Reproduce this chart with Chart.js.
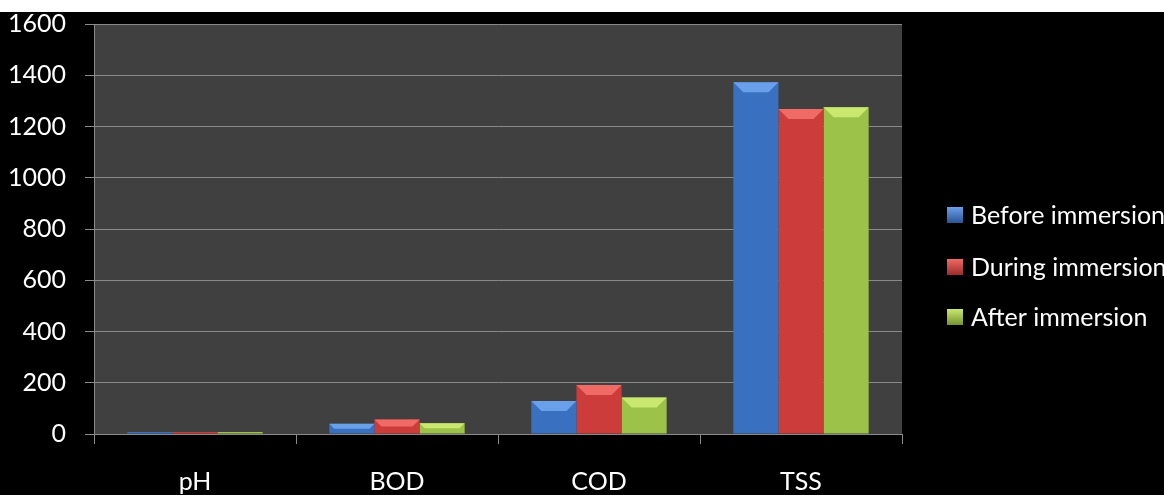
<!DOCTYPE html>
<html><head><meta charset="utf-8">
<script src="https://cdn.jsdelivr.net/npm/chart.js@4.4.0/dist/chart.umd.min.js"></script>
<style>
html,body{margin:0;padding:0;background:#fff;}
canvas{display:block;}
</style></head><body>
<canvas id="c" width="1164" height="495"></canvas>
<script>
const categories = ['pH', 'BOD', 'COD', 'TSS'];
const seriesNames = ['Before immersion', 'During immersion', 'After immersion'];
const beforeVals = [8, 40, 129, 1373];
const duringVals = [8, 57, 191, 1268];
const afterVals = [8, 42, 142, 1275];
const yTicks = [0, 200, 400, 600, 800, 1000, 1200, 1400, 1600];

const colors = ['#3a70c0', '#cc3c3a', '#9cc24a'];
const lightColors = ['#6aa0ea', '#f06a66', '#c8e870'];
const darkColors = ['#2a5494', '#9c2c2a', '#76942e'];
const FONT = 'Lato, "Open Sans", sans-serif';
const FS = 25;

function grad(ctx, i) {
  const el = ctx.element;
  const chart = ctx.chart;
  if (!el || !chart.chartArea) return colors[i];
  const x = el.x, w = el.width;
  if (!isFinite(x) || !isFinite(w) || w <= 0) return colors[i];
  const g = chart.ctx.createLinearGradient(x - w / 2, 0, x + w / 2, 0);
  g.addColorStop(0, darkColors[i]);
  g.addColorStop(0.12, colors[i]);
  g.addColorStop(0.88, colors[i]);
  g.addColorStop(1, darkColors[i]);
  return g;
}

const bgPlugin = {
  id: 'bg',
  beforeDraw(chart) {
    const {ctx, chartArea: a, width, height} = chart;
    ctx.save();
    ctx.fillStyle = '#ffffff';
    ctx.fillRect(0, 0, width, 12);
    ctx.fillStyle = '#000000';
    ctx.fillRect(0, 12, width, height - 12);
    ctx.fillStyle = '#404040';
    ctx.fillRect(a.left, a.top, a.right - a.left, a.bottom - a.top);
    ctx.restore();
  },
  afterDatasetsDraw(chart) {
    const ctx = chart.ctx;
    chart.data.datasets.forEach((ds, i) => {
      const meta = chart.getDatasetMeta(i);
      meta.data.forEach(bar => {
        const w = bar.width, h = bar.base - bar.y;
        if (!isFinite(h) || h < 4) return;
        const bev = Math.min(10, h / 2);
        const l = bar.x - w / 2, r = bar.x + w / 2, t = bar.y;
        ctx.save();
        ctx.fillStyle = lightColors[i];
        ctx.beginPath();
        ctx.moveTo(l, t); ctx.lineTo(r, t); ctx.lineTo(r - bev, t + bev); ctx.lineTo(l + bev, t + bev);
        ctx.closePath(); ctx.fill();
        ctx.restore();
      });
    });
  }
};

const legendPlugin = {
  id: 'customLegend',
  afterDraw(chart) {
    const ctx = chart.ctx;
    const ys = [215, 267, 317];
    ctx.save();
    ctx.font = FS + 'px ' + FONT;
    ctx.textBaseline = 'middle';
    chart.data.datasets.forEach((ds, i) => {
      const y = ys[i];
      const g = ctx.createLinearGradient(0, y - 8, 0, y + 8);
      g.addColorStop(0, lightColors[i]);
      g.addColorStop(1, darkColors[i]);
      ctx.fillStyle = g;
      ctx.fillRect(947, y - 8, 16, 16);
      ctx.fillStyle = '#ffffff';
      ctx.fillText(ds.label, 971, y + 1);
    });
    ctx.restore();
  }
};

new Chart(document.getElementById('c'), {
  type: 'bar',
  data: {
    labels: categories,
    datasets: [
      {label: seriesNames[0], data: beforeVals, backgroundColor: c => grad(c, 0)},
      {label: seriesNames[1], data: duringVals, backgroundColor: c => grad(c, 1)},
      {label: seriesNames[2], data: afterVals, backgroundColor: c => grad(c, 2)}
    ]
  },
  options: {
    responsive: false,
    animation: false,
    devicePixelRatio: 1,
    layout: {padding: {left: 0, right: 262, top: 24, bottom: 0}},
    datasets: {bar: {categoryPercentage: 0.67, barPercentage: 1.0}},
    plugins: {legend: {display: false}, tooltip: {enabled: false}},
    scales: {
      x: {
        grid: {display: true, drawOnChartArea: false, offset: true, color: '#8a8a8a', tickLength: 10, lineWidth: 1},
        border: {display: true, color: '#8a8a8a', width: 1},
        ticks: {color: '#ffffff', font: {family: FONT, size: FS}, padding: 23},
        afterFit(s) { s.height = 61; s.paddingLeft = 0; s.paddingRight = 0; }
      },
      y: {
        min: 0, max: 1600,
        afterBuildTicks(s) { s.ticks = yTicks.map(v => ({value: v})); },
        grid: {color: '#8a8a8a', tickLength: 9, lineWidth: 1},
        border: {display: true, color: '#8a8a8a', width: 1},
        ticks: {color: '#ffffff', font: {family: FONT, size: FS}, padding: 19, callback: v => String(v)},
        afterFit(s) { s.width = 94; s.paddingTop = 0; s.paddingBottom = 0; }
      }
    }
  },
  plugins: [bgPlugin, legendPlugin]
});
</script>
</body></html>
